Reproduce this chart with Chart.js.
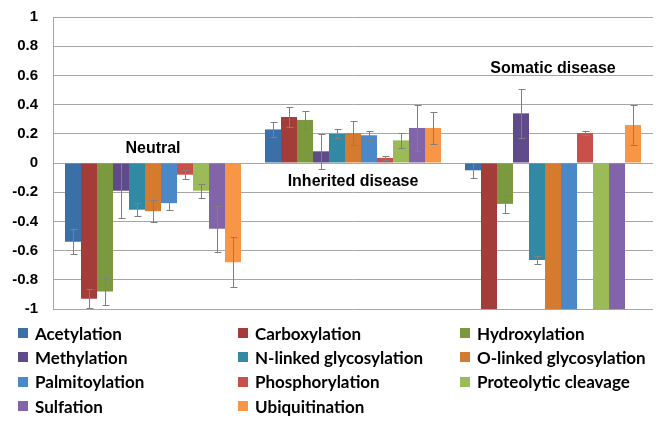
<!DOCTYPE html>
<html>
<head>
<meta charset="utf-8">
<script src="https://cdn.jsdelivr.net/npm/chart.js@4/dist/chart.umd.min.js"></script>
<style>
  html, body { margin: 0; padding: 0; background: #fff; overflow: hidden; }
  #wrap { position: relative; width: 664px; height: 428px; overflow: hidden; }
  #chartBox { position: absolute; left: 0; top: -7px; width: 664px; height: 340px; }
  #legend {
    position: absolute; left: 18px; top: 321px;
    display: grid; grid-template-columns: 220px 222px 200px;
    grid-auto-rows: 24.3px;
    font: bold 17px Lato, "Liberation Sans", sans-serif; color: #000;
  }
  #legend div { display: flex; align-items: center; white-space: nowrap; }
  #legend span.sw { display: inline-block; width: 10px; height: 10px; margin-right: 7px; }
</style>
</head>
<body>
<div id="wrap">
  <div id="chartBox"><canvas id="chart"></canvas></div>
  <div id="legend"></div>
</div>
<script>
const categories = ['Neutral', 'Inherited disease', 'Somatic disease'];
const yTicks = [-1, -0.8, -0.6, -0.4, -0.2, 0, 0.2, 0.4, 0.6, 0.8, 1];

// values per series: [Neutral, Inherited, Somatic]
const acetylation     = [-0.54, 0.23, -0.05];
const carboxylation   = [-0.93, 0.315, -1];
const hydroxylation   = [-0.88, 0.295, -0.28];
const methylation     = [-0.19, 0.08, 0.34];
const nLinked         = [-0.32, 0.20, -0.665];
const oLinked         = [-0.33, 0.205, -1];
const palmitoylation  = [-0.275, 0.19, -1];
const phosphorylation = [-0.08, 0.035, 0.205];
const proteolytic     = [-0.19, 0.155, -1];
const sulfation       = [-0.45, 0.24, -1];
const ubiquitination  = [-0.68, 0.24, 0.26];

// error (± half range) per series
const errAcetylation     = [0.085, 0.053, 0.05];
const errCarboxylation   = [0.065, 0.066, 0];
const errHydroxylation   = [0.095, 0.063, 0.063];
const errMethylation     = [0.19, 0.12, 0.17];
const errNLinked         = [0.045, 0.032, 0.03];
const errOLinked         = [0.074, 0.08, 0];
const errPalmitoylation  = [0.045, 0.03, 0];
const errPhosphorylation = [0.03, 0.013, 0.015];
const errProteolytic     = [0.047, 0.05, 0];
const errSulfation       = [0.157, 0.16, 0];
const errUbiquitination  = [0.17, 0.11, 0.137];

const seriesNames = ['Acetylation', 'Carboxylation', 'Hydroxylation', 'Methylation',
  'N-linked glycosylation', 'O-linked glycosylation', 'Palmitoylation',
  'Phosphorylation', 'Proteolytic cleavage', 'Sulfation', 'Ubiquitination'];
const seriesValues = [acetylation, carboxylation, hydroxylation, methylation, nLinked,
  oLinked, palmitoylation, phosphorylation, proteolytic, sulfation, ubiquitination];
const seriesErrors = [errAcetylation, errCarboxylation, errHydroxylation, errMethylation,
  errNLinked, errOLinked, errPalmitoylation, errPhosphorylation, errProteolytic,
  errSulfation, errUbiquitination];
const seriesColors = ['#3b6fa7', '#a33d3a', '#7b9a40', '#604b8a', '#3189a3', '#d47b2f',
  '#4a88c7', '#c8504b', '#9bbb59', '#8264a8', '#f79646'];

// group label y values (in data units)
const groupLabelY = [0.1, -0.125, 0.65];

const errorBars = {
  id: 'errorBars',
  afterDatasetsDraw(chart) {
    const ctx = chart.ctx;
    const y = chart.scales.y;
    ctx.save();
    ctx.strokeStyle = '#808080';
    ctx.lineWidth = 1;
    chart.data.datasets.forEach((ds, i) => {
      const meta = chart.getDatasetMeta(i);
      meta.data.forEach((bar, j) => {
        const e = seriesErrors[i][j];
        if (!e) return;
        const v = ds.data[j];
        const x = Math.round(bar.x) + 0.5;
        const y1 = Math.round(y.getPixelForValue(v + e)) + 0.5;
        const y2 = Math.round(y.getPixelForValue(v - e)) + 0.5;
        ctx.beginPath();
        ctx.moveTo(x, y1); ctx.lineTo(x, y2);
        ctx.moveTo(x - 3, y1); ctx.lineTo(x + 4, y1);
        ctx.moveTo(x - 3, y2); ctx.lineTo(x + 4, y2);
        ctx.stroke();
      });
    });
    ctx.restore();
  }
};

const groupLabels = {
  id: 'groupLabels',
  afterDraw(chart) {
    const ctx = chart.ctx;
    ctx.save();
    ctx.font = 'bold 16px "Liberation Sans", Arial, sans-serif';
    ctx.fillStyle = '#000';
    ctx.textAlign = 'center';
    ctx.textBaseline = 'middle';
    categories.forEach((c, i) => {
      ctx.fillText(c, chart.scales.x.getPixelForValue(i), chart.scales.y.getPixelForValue(groupLabelY[i]));
    });
    ctx.restore();
  }
};

const chart = new Chart(document.getElementById('chart'), {
  type: 'bar',
  data: {
    labels: categories,
    datasets: seriesNames.map((name, i) => ({
      label: name,
      data: seriesValues[i],
      backgroundColor: seriesColors[i],
      borderWidth: 0,
      barPercentage: 1,
      categoryPercentage: 0.88
    }))
  },
  options: {
    responsive: true,
    maintainAspectRatio: false,
    animation: false,
    layout: { padding: { top: 5, right: 11, bottom: 0, left: 0 } },
    plugins: { legend: { display: false }, tooltip: { enabled: false } },
    scales: {
      x: { display: false },
      y: {
        min: -1, max: 1,
        afterFit: s => { s.width = 53; },
        afterBuildTicks: s => { s.ticks = yTicks.map(v => ({ value: v })); },
        grid: { color: '#a6a6a6', drawTicks: false },
        border: { color: '#a6a6a6' },
        ticks: {
          padding: 15,
          color: '#000',
          font: { family: '"Liberation Sans", Arial, sans-serif', weight: 'bold', size: 15 },
          callback: v => String(Math.round(v * 10) / 10)
        }
      }
    }
  },
  plugins: [errorBars, groupLabels]
});

const legendEl = document.getElementById('legend');
legendEl.innerHTML = chart.data.datasets.map(ds =>
  `<div><span class="sw" style="background:${ds.backgroundColor}"></span>${ds.label}</div>`
).join('');
</script>
</body>
</html>
